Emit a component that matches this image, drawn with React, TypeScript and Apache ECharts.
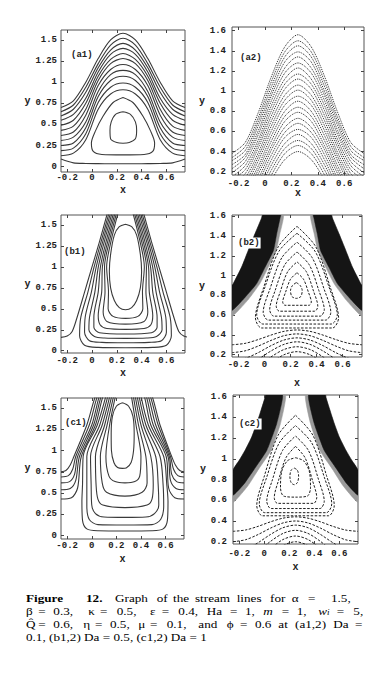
import React, { useEffect, useRef } from "react";
import * as echarts from "echarts";

// ---------- shared grids / ticks ----------
const GX = [-0.25, -0.15, -0.05, 0.05, 0.15, 0.25, 0.35, 0.45, 0.55, 0.65, 0.75];
const X_TICKS = [-0.2, 0, 0.2, 0.4, 0.6];
const Y_TICKS_LEFT = [0, 0.25, 0.5, 0.75, 1, 1.25, 1.5];
const Y_TICKS_RIGHT = [0.2, 0.4, 0.6, 0.8, 1, 1.2, 1.4, 1.6];

// ---------- (a1) Da = 0.1, solid ----------
// symmetric open streamlines: y at GX[0..5] (mirrored about x = 0.25)
const A1_OPEN = [
  [0.70, 0.78, 1.00, 1.28, 1.50, 1.58],
  [0.65, 0.73, 0.94, 1.22, 1.44, 1.52],
  [0.60, 0.68, 0.88, 1.17, 1.38, 1.46],
  [0.55, 0.62, 0.81, 1.12, 1.33, 1.40],
  [0.49, 0.55, 0.75, 1.07, 1.27, 1.34],
  [0.43, 0.48, 0.68, 1.02, 1.22, 1.28],
  [0.37, 0.41, 0.61, 0.96, 1.15, 1.21],
  [0.31, 0.35, 0.53, 0.89, 1.09, 1.14],
  [0.25, 0.28, 0.46, 0.83, 1.02, 1.07],
  [0.19, 0.22, 0.39, 0.76, 0.94, 0.99],
  [0.13, 0.16, 0.32, 0.68, 0.86, 0.91],
];
const A1_BOTTOM = [0.09, 0.045, 0.038, 0.036, 0.035, 0.035];
const A1_LOOP_INNER = [[0.25,0.65],[0.31,0.62],[0.35,0.53],[0.36,0.43],[0.35,0.33],[0.30,0.285],[0.25,0.277],[0.20,0.285],[0.15,0.33],[0.145,0.43],[0.155,0.53],[0.19,0.62],[0.25,0.65]];
const A1_LOOP_OUTER = [[0.25,0.82],[0.33,0.76],[0.41,0.60],[0.47,0.43],[0.505,0.28],[0.49,0.18],[0.42,0.145],[0.25,0.14],[0.08,0.145],[0.01,0.18],[-0.005,0.28],[0.03,0.43],[0.09,0.60],[0.17,0.76],[0.25,0.82]];

// ---------- (a2) Da = 0.1, dotted ----------
const A2_LINES = [
  [0.38, 0.49, 0.79, 1.15, 1.44, 1.56],
  [0.34, 0.45, 0.74, 1.10, 1.39, 1.50],
  [0.31, 0.41, 0.70, 1.05, 1.34, 1.45],
  [0.27, 0.37, 0.66, 1.00, 1.29, 1.39],
  [0.23, 0.34, 0.61, 0.96, 1.23, 1.34],
  [0.19, 0.30, 0.57, 0.91, 1.18, 1.28],
  [0.15, 0.26, 0.52, 0.86, 1.12, 1.23],
  [0.12, 0.22, 0.48, 0.81, 1.07, 1.17],
  [0.08, 0.18, 0.44, 0.76, 1.02, 1.12],
  [0.04, 0.14, 0.39, 0.71, 0.96, 1.06],
  [0.00, 0.10, 0.35, 0.66, 0.91, 1.01],
  [-0.03, 0.06, 0.31, 0.61, 0.86, 0.95],
  [-0.07, 0.02, 0.26, 0.56, 0.80, 0.90],
  [-0.11, -0.02, 0.22, 0.51, 0.75, 0.84],
  [-0.15, -0.06, 0.18, 0.46, 0.70, 0.79],
  [-0.18, -0.10, 0.13, 0.42, 0.64, 0.73],
  [-0.22, -0.14, 0.09, 0.37, 0.59, 0.68],
  [-0.26, -0.18, 0.04, 0.32, 0.54, 0.62],
  [-0.30, -0.22, 0.00, 0.27, 0.48, 0.57],
  [-0.34, -0.25, -0.04, 0.22, 0.43, 0.51],
  [-0.37, -0.29, -0.09, 0.17, 0.38, 0.46],
  [-0.41, -0.33, -0.13, 0.12, 0.32, 0.40],
];

// ---------- (b1) Da = 0.5, solid ----------
const B1_WALLS = [
  [[-0.25,0.16],[-0.20,0.175],[-0.16,0.23],[-0.12,0.40],[-0.06,0.70],[0.0,1.0],[0.06,1.30],[0.12,1.62],[0.145,1.75]],
  [[0.79,0.16],[0.74,0.175],[0.70,0.23],[0.66,0.40],[0.60,0.70],[0.54,1.0],[0.48,1.30],[0.42,1.62],[0.395,1.75]],
];
const B1_U = [
  [[0.157,1.75],[0.073,1.3],[0.017,1.0],[-0.033,0.7],[-0.09,0.4],[-0.10,0.18],[-0.06,0.065],[0.05,0.04],[0.27,0.036],[0.49,0.04],[0.60,0.065],[0.64,0.18],[0.63,0.4],[0.573,0.7],[0.523,1.0],[0.467,1.3],[0.383,1.75]],
  [[0.169,1.75],[0.086,1.3],[0.034,1.0],[-0.005,0.7],[-0.055,0.4],[-0.06,0.22],[-0.02,0.12],[0.08,0.10],[0.27,0.095],[0.46,0.10],[0.56,0.12],[0.60,0.22],[0.595,0.4],[0.545,0.7],[0.506,1.0],[0.454,1.3],[0.371,1.75]],
  [[0.181,1.75],[0.099,1.3],[0.051,1.0],[0.023,0.7],[-0.02,0.4],[-0.025,0.25],[0.02,0.17],[0.1,0.152],[0.27,0.148],[0.44,0.152],[0.52,0.17],[0.565,0.25],[0.56,0.4],[0.517,0.7],[0.489,1.0],[0.441,1.3],[0.359,1.75]],
  [[0.193,1.75],[0.113,1.3],[0.068,1.0],[0.05,0.7],[0.015,0.4],[0.015,0.28],[0.06,0.215],[0.27,0.199],[0.48,0.215],[0.525,0.28],[0.525,0.4],[0.49,0.7],[0.472,1.0],[0.427,1.3],[0.347,1.75]],
  [[0.205,1.75],[0.126,1.3],[0.084,1.0],[0.078,0.7],[0.05,0.42],[0.065,0.31],[0.12,0.265],[0.27,0.255],[0.42,0.265],[0.475,0.31],[0.49,0.42],[0.462,0.7],[0.456,1.0],[0.414,1.3],[0.335,1.75]],
  [[0.217,1.75],[0.139,1.3],[0.101,1.0],[0.105,0.7],[0.09,0.46],[0.12,0.35],[0.27,0.318],[0.42,0.35],[0.45,0.46],[0.435,0.7],[0.439,1.0],[0.401,1.3],[0.323,1.75]],
  [[0.229,1.75],[0.152,1.3],[0.118,1.0],[0.133,0.7],[0.13,0.5],[0.17,0.41],[0.27,0.386],[0.37,0.41],[0.41,0.5],[0.407,0.7],[0.422,1.0],[0.388,1.3],[0.311,1.75]],
];
const B1_LOOP = [[0.27,1.51],[0.32,1.48],[0.36,1.38],[0.39,1.15],[0.40,0.95],[0.39,0.75],[0.36,0.6],[0.32,0.515],[0.27,0.49],[0.22,0.515],[0.18,0.6],[0.15,0.75],[0.14,0.95],[0.15,1.15],[0.18,1.38],[0.22,1.48],[0.27,1.51]];

// ---------- (c1) Da = 1, solid ----------
const C1_OPEN = [
  [[-0.25,0.75],[-0.21,0.765],[-0.175,0.83],[-0.145,0.93],[-0.04,1.3],[0.06,1.75],[0.25,2.1],[0.46,1.75],[0.555,1.3],[0.65,0.93],[0.68,0.83],[0.715,0.765],[0.75,0.75]],
  [[-0.25,0.69],[-0.19,0.705],[-0.155,0.78],[-0.13,0.93],[-0.02,1.3],[0.075,1.75],[0.25,2.05],[0.445,1.75],[0.54,1.3],[0.64,0.93],[0.665,0.78],[0.70,0.705],[0.75,0.69]],
  [[-0.25,0.62],[-0.18,0.635],[-0.14,0.72],[-0.115,0.93],[0.0,1.3],[0.09,1.75],[0.25,2.0],[0.43,1.75],[0.52,1.3],[0.63,0.93],[0.65,0.72],[0.69,0.635],[0.75,0.62]],
  [[-0.25,0.54],[-0.175,0.555],[-0.13,0.65],[-0.10,0.93],[0.015,1.3],[0.105,1.75],[0.25,1.95],[0.415,1.75],[0.50,1.3],[0.62,0.93],[0.64,0.65],[0.685,0.555],[0.75,0.54]],
  [[-0.25,0.43],[-0.165,0.445],[-0.115,0.56],[-0.085,0.93],[0.03,1.3],[0.12,1.75],[0.25,1.9],[0.40,1.75],[0.48,1.3],[0.605,0.93],[0.625,0.56],[0.675,0.445],[0.75,0.43]],
];
const C1_U = [
  [[0.135,1.75],[0.045,1.3],[-0.07,0.93],[-0.075,0.6],[-0.08,0.4],[-0.075,0.18],[-0.04,0.08],[0.05,0.058],[0.27,0.055],[0.49,0.058],[0.58,0.08],[0.615,0.18],[0.62,0.4],[0.61,0.6],[0.585,0.93],[0.46,1.3],[0.385,1.75]],
  [[0.15,1.75],[0.065,1.3],[-0.04,0.93],[-0.04,0.6],[-0.04,0.35],[-0.02,0.19],[0.05,0.13],[0.27,0.125],[0.49,0.13],[0.56,0.19],[0.585,0.35],[0.58,0.6],[0.555,0.93],[0.44,1.3],[0.37,1.75]],
  [[0.165,1.75],[0.085,1.3],[-0.01,0.93],[-0.005,0.6],[0.0,0.36],[0.03,0.26],[0.10,0.22],[0.27,0.215],[0.44,0.22],[0.51,0.26],[0.545,0.36],[0.54,0.6],[0.52,0.93],[0.42,1.3],[0.355,1.75]],
  [[0.18,1.75],[0.105,1.3],[0.03,0.93],[0.035,0.6],[0.05,0.43],[0.09,0.36],[0.27,0.33],[0.45,0.36],[0.49,0.43],[0.50,0.6],[0.48,0.93],[0.40,1.3],[0.34,1.75]],
  [[0.195,1.75],[0.125,1.3],[0.07,0.93],[0.085,0.62],[0.12,0.51],[0.27,0.465],[0.41,0.51],[0.45,0.62],[0.44,0.93],[0.38,1.3],[0.325,1.75]],
  [[0.21,1.75],[0.145,1.3],[0.115,0.93],[0.14,0.7],[0.19,0.635],[0.27,0.62],[0.35,0.635],[0.39,0.7],[0.40,0.93],[0.36,1.3],[0.31,1.75]],
];
const C1_LOOP = [[0.25,1.56],[0.30,1.52],[0.335,1.4],[0.345,1.2],[0.34,1.0],[0.32,0.86],[0.28,0.795],[0.25,0.79],[0.21,0.80],[0.18,0.86],[0.16,1.0],[0.158,1.2],[0.168,1.4],[0.20,1.52],[0.25,1.56]];

// ---------- (b2) Da = 0.5, dashed ----------
const B2_BAND_FRINGE = [
  [[-0.25,0.90],[-0.24,0.92],[-0.176,1.087],[-0.125,1.256],[-0.073,1.425],[-0.022,1.585],[-0.015,1.615],[0.145,1.615],[0.118,1.425],[0.09,1.256],[0.03,1.087],[-0.035,0.92],[-0.13,0.75],[-0.25,0.59]],
  [[0.75,0.90],[0.74,0.92],[0.676,1.087],[0.625,1.256],[0.573,1.425],[0.522,1.585],[0.515,1.615],[0.355,1.615],[0.382,1.425],[0.41,1.256],[0.47,1.087],[0.535,0.92],[0.63,0.75],[0.75,0.59]],
];
const B2_BAND_CORE = [
  [[-0.25,0.90],[-0.24,0.92],[-0.176,1.087],[-0.125,1.256],[-0.073,1.425],[-0.022,1.585],[-0.015,1.615],[0.125,1.615],[0.12,1.585],[0.094,1.425],[0.069,1.256],[0.005,1.087],[-0.06,0.92],[-0.15,0.78],[-0.25,0.65]],
  [[0.75,0.90],[0.74,0.92],[0.676,1.087],[0.625,1.256],[0.573,1.425],[0.522,1.585],[0.515,1.615],[0.375,1.615],[0.38,1.585],[0.406,1.425],[0.431,1.256],[0.495,1.087],[0.56,0.92],[0.65,0.78],[0.75,0.65]],
];
const B2_LOOPS = [
  [[0.245,0.93],[0.275,0.9],[0.29,0.85],[0.28,0.79],[0.245,0.77],[0.21,0.79],[0.20,0.85],[0.215,0.9],[0.245,0.93]],
  [[0.25,1.03],[0.30,0.964],[0.338,0.832],[0.36,0.733],[0.343,0.70],[0.25,0.70],[0.157,0.70],[0.14,0.733],[0.162,0.832],[0.20,0.964],[0.25,1.03]],
  [[0.25,1.14],[0.322,1.04],[0.378,0.84],[0.41,0.69],[0.386,0.64],[0.25,0.64],[0.114,0.64],[0.09,0.69],[0.122,0.84],[0.178,1.04],[0.25,1.14]],
  [[0.25,1.24],[0.3445,1.11],[0.418,0.85],[0.46,0.655],[0.4285,0.59],[0.25,0.59],[0.0715,0.59],[0.04,0.655],[0.082,0.85],[0.1555,1.11],[0.25,1.24]],
  [[0.25,1.34],[0.367,1.182],[0.458,0.866],[0.51,0.629],[0.471,0.55],[0.25,0.55],[0.029,0.55],[-0.01,0.629],[0.042,0.866],[0.133,1.182],[0.25,1.34]],
  [[0.25,1.43],[0.3895,1.246],[0.498,0.878],[0.56,0.602],[0.5135,0.51],[0.25,0.51],[-0.0135,0.51],[-0.06,0.602],[0.002,0.878],[0.1105,1.246],[0.25,1.43]],
  [[0.25,1.50],[0.394,1.294],[0.506,0.882],[0.57,0.573],[0.522,0.47],[0.25,0.47],[-0.022,0.47],[-0.07,0.573],[-0.006,0.882],[0.106,1.294],[0.25,1.50]],
];
const B2_ARCHES = [
  [0.30, 0.314, 0.352, 0.398, 0.436, 0.45],
  [0.22, 0.238, 0.286, 0.344, 0.392, 0.41],
  [0.14, 0.162, 0.219, 0.291, 0.348, 0.37],
  [0.06, 0.086, 0.153, 0.237, 0.304, 0.33],
  [-0.02, 0.009, 0.084, 0.177, 0.252, 0.28],
  [-0.10, -0.069, 0.014, 0.116, 0.199, 0.23],
];

// ---------- (c2) Da = 1, dashed ----------
const C2_BAND_FRINGE = [
  [[-0.25,0.89],[-0.20,0.985],[-0.154,1.08],[-0.10,1.21],[-0.06,1.34],[-0.025,1.47],[0.006,1.59],[0.01,1.615],[0.17,1.615],[0.13,1.34],[0.055,1.08],[-0.045,0.90],[-0.13,0.74],[-0.25,0.58]],
  [[0.75,0.89],[0.70,0.985],[0.654,1.08],[0.60,1.21],[0.56,1.34],[0.525,1.47],[0.494,1.59],[0.49,1.615],[0.33,1.615],[0.37,1.34],[0.445,1.08],[0.545,0.90],[0.63,0.74],[0.75,0.58]],
];
const C2_BAND_CORE = [
  [[-0.25,0.89],[-0.20,0.985],[-0.154,1.08],[-0.10,1.21],[-0.06,1.34],[-0.025,1.47],[0.006,1.59],[0.01,1.615],[0.146,1.615],[0.10,1.34],[0.02,1.08],[-0.08,0.90],[-0.16,0.76],[-0.25,0.65]],
  [[0.75,0.89],[0.70,0.985],[0.654,1.08],[0.60,1.21],[0.56,1.34],[0.525,1.47],[0.494,1.59],[0.49,1.615],[0.354,1.615],[0.40,1.34],[0.48,1.08],[0.58,0.90],[0.66,0.76],[0.75,0.65]],
];
const C2_LOOPS = [
  [[0.24,0.91],[0.265,0.89],[0.275,0.83],[0.265,0.77],[0.24,0.75],[0.215,0.77],[0.205,0.83],[0.215,0.89],[0.24,0.91]],
  [[0.25,1.01],[0.315,0.98],[0.36,0.88],[0.37,0.72],[0.345,0.64],[0.25,0.63],[0.155,0.64],[0.13,0.72],[0.14,0.88],[0.185,0.98],[0.25,1.01]],
  [[0.25,1.12],[0.3265,1.01],[0.386,0.79],[0.42,0.625],[0.3945,0.57],[0.25,0.57],[0.1055,0.57],[0.08,0.625],[0.114,0.79],[0.1735,1.01],[0.25,1.12]],
  [[0.25,1.22],[0.3535,1.08],[0.434,0.80],[0.48,0.59],[0.4455,0.52],[0.25,0.52],[0.0545,0.52],[0.02,0.59],[0.066,0.80],[0.1465,1.08],[0.25,1.22]],
  [[0.25,1.32],[0.3805,1.152],[0.482,0.816],[0.54,0.564],[0.4965,0.48],[0.25,0.48],[0.0035,0.48],[-0.04,0.564],[0.018,0.816],[0.1195,1.152],[0.25,1.32]],
  [[0.25,1.42],[0.3895,1.226],[0.498,0.838],[0.56,0.547],[0.5135,0.45],[0.25,0.45],[-0.0135,0.45],[-0.06,0.547],[0.002,0.838],[0.1105,1.226],[0.25,1.42]],
];
const C2_ARCHES = [
  [0.30, 0.313, 0.348, 0.392, 0.427, 0.44],
  [0.20, 0.219, 0.269, 0.331, 0.381, 0.40],
  [0.10, 0.125, 0.19, 0.27, 0.335, 0.36],
  [0.0, 0.03, 0.107, 0.203, 0.28, 0.31],
  [-0.10, -0.066, 0.022, 0.133, 0.221, 0.255],
  [-0.20, -0.162, -0.062, 0.062, 0.162, 0.20],
];

// ---------- caption text ----------
const CAPTION_LINES: { y: number; words: [string, number, string?][] }[] = [
  { y: 598.5, words: [["Figure", 26, "b"], ["12.", 86, "b"], ["Graph", 115], ["of", 156.7], ["the", 173], ["stream", 195], ["lines", 236.7], ["for", 270], ["α", 291.7], ["=", 308], ["1.5,", 331]] },
  { y: 611.5, words: [["β", 26], ["=", 38.3], ["0.3,", 53.3], ["κ", 88.3], ["=", 100], ["0.5,", 116.7], ["ε", 150], ["=", 161.7], ["0.4,", 178.3], ["Ha", 206.7], ["=", 230], ["1,", 245], ["m", 263.3, "i"], ["=", 281.7], ["1,", 296.7], ["w", 318.3, "w"], ["=", 336.7], ["5,", 353.3]] },
  { y: 624.5, words: [["Q\u0302", 26], ["=", 38.3], ["0.6,", 53.3], ["η", 83.3], ["=", 95], ["0.5,", 110], ["μ", 138.3], ["=", 150], ["0.1,", 166.7], ["and", 198.3], ["ϕ", 226.7], ["=", 240], ["0.6", 255], ["at", 278.3], ["(a1,2)", 295], ["Da", 333.3], ["=", 355]] },
  { y: 637.5, words: [["0.1, (b1,2) Da = 0.5, (c1,2) Da = 1", 26]] },
];

// ---------- layout ----------
const PANELS = [
  { label: "(a1)", grid: { left: 61, top: 30, width: 124, height: 142 }, y: [-0.063, 1.618], yt: Y_TICKS_LEFT, lx: 71, ly: 55, xGap: 13, yGap: 28.5, xm: 1, ym: 4, bg: false },
  { label: "(a2)", grid: { left: 232, top: 27, width: 132, height: 148 }, y: [0.167, 1.637], yt: Y_TICKS_RIGHT, lx: 240, ly: 58, xGap: 13, yGap: 24.5, xm: 4, ym: 6, bg: false },
  { label: "(b1)", grid: { left: 61, top: 215, width: 124, height: 138 }, y: [-0.027, 1.62], yt: Y_TICKS_LEFT, lx: 64, ly: 252, xGap: 15, yGap: 29.5, xm: 3, ym: 4, bg: false },
  { label: "(b2)", grid: { left: 232, top: 215, width: 130, height: 142 }, y: [0.176, 1.615], yt: Y_TICKS_RIGHT, lx: 237, ly: 243, xGap: 21, yGap: 24, xm: 3, ym: 6, bg: true },
  { label: "(c1)", grid: { left: 61, top: 398, width: 123, height: 141 }, y: [-0.039, 1.617], yt: Y_TICKS_LEFT, lx: 65, ly: 423, xGap: 15, yGap: 29.5, xm: 2, ym: 4, bg: false },
  { label: "(c2)", grid: { left: 233, top: 395, width: 125, height: 149 }, y: [0.178, 1.615], yt: Y_TICKS_RIGHT, lx: 238, ly: 424, xGap: 18, yGap: 25, xm: 5, ym: 6, bg: true },
];

const MONO = '"Liberation Mono", "DejaVu Sans Mono", monospace';
const SERIF = '"Liberation Serif", "DejaVu Serif", serif';

const sym = (half: number[]) => GX.map((x, i) => [x, half[i <= 5 ? i : 10 - i]]);
const fmt = (v: number) => String(Math.round(v * 100) / 100);

const S_SOLID = { color: "#3a3a3a", width: 1.1, type: "solid" };
const S_DOT = { color: "#2a2a2a", width: 1, type: "dotted" };
const S_DASH = { color: "#1e1e1e", width: 1, type: [2.5, 1.5] };

function lineSeries(gi: number, pts: number[][], style: any) {
  return {
    type: "line", xAxisIndex: 2 * gi, yAxisIndex: 2 * gi, data: pts,
    smooth: 0.3, symbol: "none", showSymbol: false, silent: true, clip: true,
    lineStyle: style, z: 3, animation: false,
  };
}
function polySeries(gi: number, pts: number[][], fill: string) {
  return {
    type: "custom", xAxisIndex: 2 * gi, yAxisIndex: 2 * gi, data: pts,
    encode: { x: 0, y: 1 }, silent: true, clip: true, z: 2, animation: false,
    renderItem: (params: any, api: any) => {
      if (params.dataIndex !== 0) return null;
      const p = pts.map((q) => api.coord(q));
      return { type: "polygon", shape: { points: p, smooth: 0.15 }, style: { fill, stroke: fill, lineWidth: 0.5 } };
    },
  };
}

function buildOption() {
  const grid: any[] = [];
  const xAxis: any[] = [];
  const yAxis: any[] = [];
  const tickStyle = { color: "#444", width: 1 };
  const labelFont = { fontFamily: MONO, fontWeight: "bold", fontSize: 9, color: "#222" };
  const nameFont = { fontFamily: MONO, fontWeight: "bold", fontSize: 10, color: "#222" };
  PANELS.forEach((p, i) => {
    grid.push({ ...p.grid, show: true, borderColor: "#555", borderWidth: 1, backgroundColor: "transparent", containLabel: false });
    xAxis.push({
      gridIndex: i, type: "value", min: -0.25, max: 0.75, position: "bottom",
      axisLine: { show: false, onZero: false }, splitLine: { show: false },
      axisTick: { show: true, inside: true, length: 3, customValues: X_TICKS, lineStyle: tickStyle },
      axisLabel: { customValues: X_TICKS, formatter: fmt, margin: p.xm, ...labelFont },
      name: "x", nameLocation: "middle", nameGap: p.xGap, nameTextStyle: nameFont,
    });
    xAxis.push({
      gridIndex: i, type: "value", min: -0.25, max: 0.75, position: "top",
      axisLine: { show: false, onZero: false }, splitLine: { show: false }, axisLabel: { show: false },
      axisTick: { show: true, inside: true, length: 3, customValues: X_TICKS, lineStyle: tickStyle },
    });
    yAxis.push({
      gridIndex: i, type: "value", min: p.y[0], max: p.y[1], position: "left",
      axisLine: { show: false, onZero: false }, splitLine: { show: false },
      axisTick: { show: true, inside: true, length: 3, customValues: p.yt, lineStyle: tickStyle },
      axisLabel: { customValues: p.yt, formatter: fmt, margin: p.ym, ...labelFont },
      name: "y", nameLocation: "middle", nameGap: p.yGap, nameRotate: 0, nameTextStyle: nameFont,
    });
    yAxis.push({
      gridIndex: i, type: "value", min: p.y[0], max: p.y[1], position: "right",
      axisLine: { show: false, onZero: false }, splitLine: { show: false }, axisLabel: { show: false },
      axisTick: { show: true, inside: true, length: 3, customValues: p.yt, lineStyle: tickStyle },
    });
  });

  const series: any[] = [];
  // a1
  A1_OPEN.forEach((h) => series.push(lineSeries(0, sym(h), S_SOLID)));
  series.push(lineSeries(0, sym(A1_BOTTOM), S_SOLID));
  series.push(lineSeries(0, A1_LOOP_OUTER, S_SOLID));
  series.push(lineSeries(0, A1_LOOP_INNER, S_SOLID));
  // a2
  A2_LINES.forEach((h) => series.push(lineSeries(1, sym(h), S_DOT)));
  // b1
  B1_WALLS.forEach((l) => series.push(lineSeries(2, l, S_SOLID)));
  B1_U.forEach((l) => series.push(lineSeries(2, l, S_SOLID)));
  series.push(lineSeries(2, B1_LOOP, S_SOLID));
  // b2
  B2_BAND_FRINGE.forEach((l) => series.push(polySeries(3, l, "#9a9a9a")));
  B2_BAND_CORE.forEach((l) => series.push(polySeries(3, l, "#151515")));
  B2_LOOPS.forEach((l) => series.push(lineSeries(3, l, S_DASH)));
  B2_ARCHES.forEach((h) => series.push(lineSeries(3, sym(h), S_DASH)));
  // c1
  C1_OPEN.forEach((l) => series.push(lineSeries(4, l, S_SOLID)));
  C1_U.forEach((l) => series.push(lineSeries(4, l, S_SOLID)));
  series.push(lineSeries(4, C1_LOOP, S_SOLID));
  // c2
  C2_BAND_FRINGE.forEach((l) => series.push(polySeries(5, l, "#9a9a9a")));
  C2_BAND_CORE.forEach((l) => series.push(polySeries(5, l, "#151515")));
  C2_LOOPS.forEach((l) => series.push(lineSeries(5, l, S_DASH)));
  C2_ARCHES.forEach((h) => series.push(lineSeries(5, sym(h), S_DASH)));

  const graphic: any[] = [];
  PANELS.forEach((p) => {
    graphic.push({
      type: "text", x: p.lx, y: p.ly, z: 10,
      style: {
        text: p.label, fontFamily: MONO, fontWeight: "bold", fontSize: 9, fill: "#222", verticalAlign: "middle",
        backgroundColor: p.bg ? "#fff" : "transparent", padding: p.bg ? [1, 1] : 0,
      },
    });
  });
  const CAP_FS = 10.8;
  CAPTION_LINES.forEach((ln) => {
    ln.words.forEach(([w, x, f]) => {
      const base: any = {
        fontFamily: SERIF, fontSize: CAP_FS, fill: "#000", verticalAlign: "middle",
        fontWeight: f === "b" ? "bold" : "normal", fontStyle: f === "i" ? "italic" : "normal",
      };
      if (f === "w") {
        base.text = "{a|w}{b|i}";
        base.rich = {
          a: { fontFamily: SERIF, fontSize: CAP_FS, fontStyle: "italic", fill: "#000" },
          b: { fontFamily: SERIF, fontSize: 7.5, fontStyle: "italic", fill: "#000", verticalAlign: "bottom", padding: [3, 0, 0, 0] },
        };
      } else {
        base.text = w;
      }
      graphic.push({ type: "text", x, y: ln.y, z: 10, scaleX: 1.22, style: base });
    });
  });

  return { animation: false, backgroundColor: "#fff", grid, xAxis, yAxis, series, graphic };
}

export default function App() {
  const ref = useRef<HTMLDivElement>(null);
  useEffect(() => {
    document.body.style.margin = "0";
    const chart = echarts.init(ref.current as HTMLDivElement, null, { renderer: "svg" });
    chart.setOption(buildOption() as any);
    return () => chart.dispose();
  }, []);
  return <div ref={ref} style={{ width: 375, height: 686 }} />;
}
